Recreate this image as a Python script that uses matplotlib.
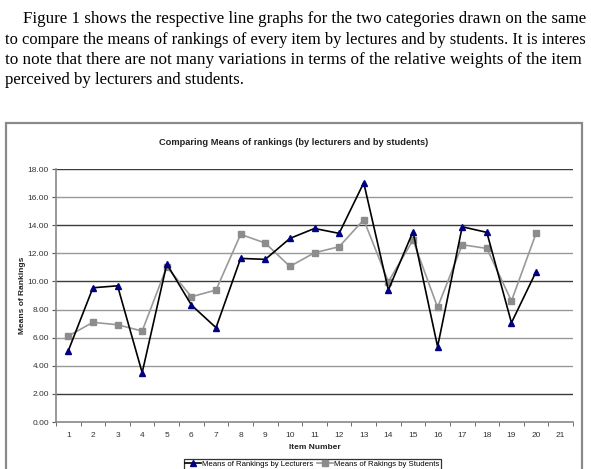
import matplotlib
matplotlib.use("Agg")
import matplotlib.pyplot as plt
from matplotlib.patches import Rectangle
import numpy as np

items = list(range(1, 21))
lecturers = [5.07, 9.55, 9.69, 3.51, 11.24, 8.32, 6.71, 11.64, 11.57, 13.06,
             13.77, 13.42, 17.02, 9.39, 13.54, 5.36, 13.89, 13.49, 7.06, 10.69]
students = [6.12, 7.09, 6.92, 6.47, 11.05, 8.91, 9.39, 13.35, 12.73, 11.07,
            12.04, 12.47, 14.39, 9.98, 12.94, 8.16, 12.61, 12.35, 8.61, 13.42]
x_labels = [str(i) for i in range(1, 22)]
y_ticks = [0, 2, 4, 6, 8, 10, 12, 14, 16, 18]
paragraph = [
    "Figure 1 shows the respective line graphs for the two categories drawn on the same",
    "to compare the means of rankings of every item by lectures and by students. It is interes",
    "to note that there are not many variations in terms of the relative weights of the item",
    "perceived by lecturers and students.",
]
title = "Comparing Means of rankings (by lecturers and by students)"
label_lect = "Means of Rankings by Lecturers"
label_stud = "Means of Rakings by Students"

W, H = 591, 469
fig = plt.figure(figsize=(W / 100, H / 100), dpi=100)

def fx(px):
    return px / W

def fy(py):
    return 1 - py / H

# paragraph text
serif = "Liberation Serif"
fig.text(fx(23), fy(19), paragraph[0], family=serif, fontsize=12.15, va="center", ha="left")
fig.text(fx(5), fy(39.5), paragraph[1], family=serif, fontsize=11.9, va="center", ha="left")
fig.text(fx(5), fy(59.5), paragraph[2], family=serif, fontsize=12.3, va="center", ha="left")
fig.text(fx(5), fy(79.5), paragraph[3], family=serif, fontsize=12.1, va="center", ha="left")

# chart frame
fig.patches.append(Rectangle((fx(6), fy(480)), fx(582) - fx(6), fy(123) - fy(480),
                             transform=fig.transFigure, fill=False,
                             edgecolor="#8a8a8a", linewidth=1.6))

ax = fig.add_axes([fx(56), fy(422), fx(573) - fx(56), fy(169) - fy(422)])
sans = "Liberation Sans"

ax.plot(items, students, color="#999999", linewidth=1.2, marker="s",
        markersize=4.2, markerfacecolor="#8c8c8c", markeredgecolor="#8c8c8c",
        label=label_stud, zorder=3)
ax.plot(items, lecturers, color="black", linewidth=1.2, marker="^",
        markersize=5, markerfacecolor="#000080", markeredgecolor="#000080",
        label=label_lect, zorder=4)

ax.set_xlim(0.5, 21.5)
ax.set_ylim(0, 18)
ax.set_yticks(y_ticks)
ax.set_yticklabels([f"{v:.2f}" for v in y_ticks], family=sans, fontsize=6, color="#333333")
ax.set_xticks(range(1, 22))
ax.set_xticklabels(x_labels, family=sans, fontsize=6, color="#333333")
ax.set_xticks(np.arange(0.5, 22, 1), minor=True)
ax.tick_params(axis="x", which="major", length=0, pad=7)
ax.tick_params(axis="x", which="minor", length=3, color="#555555", direction="out")
ax.tick_params(axis="y", which="major", length=3, color="#555555", direction="out", pad=2)

ax.grid(axis="y", linewidth=1.0, color="#999999")
dark = {2, 10, 14, 18}
for tick_val, gl in zip(y_ticks, ax.get_ygridlines()):
    if tick_val in dark:
        gl.set_color("#3a3a3a")
    if tick_val == 0:
        gl.set_visible(False)
ax.set_axisbelow(True)

for s in ["top", "right"]:
    ax.spines[s].set_visible(False)
ax.spines["left"].set_color("#888888")
ax.spines["bottom"].set_color("#888888")
ax.spines["left"].set_linewidth(1.2)
ax.spines["bottom"].set_linewidth(1.2)

fig.text(fx(294), fy(142), title, family=sans, fontsize=6.7, fontweight="bold",
         ha="center", va="center", color="#222222")
fig.text(fx(23), fy(295.5), "Means of Rankings", family=sans, fontsize=6,
         fontweight="bold", rotation=90, ha="center", va="center", color="#222222")
fig.text(fx(314.5), fy(447), "Item Number", family=sans, fontsize=6,
         fontweight="bold", ha="center", va="center", color="#222222")

handles, labels = ax.get_legend_handles_labels()
leg = fig.legend(handles[::-1], labels[::-1], loc="upper center",
                 bbox_to_anchor=(fx(312.5), fy(459)), ncol=2,
                 prop={"family": sans, "size": 5.6}, frameon=True, fancybox=False,
                 edgecolor="black", borderpad=0.2, handlelength=2.0,
                 columnspacing=0.5, handletextpad=0.2, borderaxespad=0)
leg.get_frame().set_linewidth(0.9)

fig.savefig("out.png", dpi=100)
